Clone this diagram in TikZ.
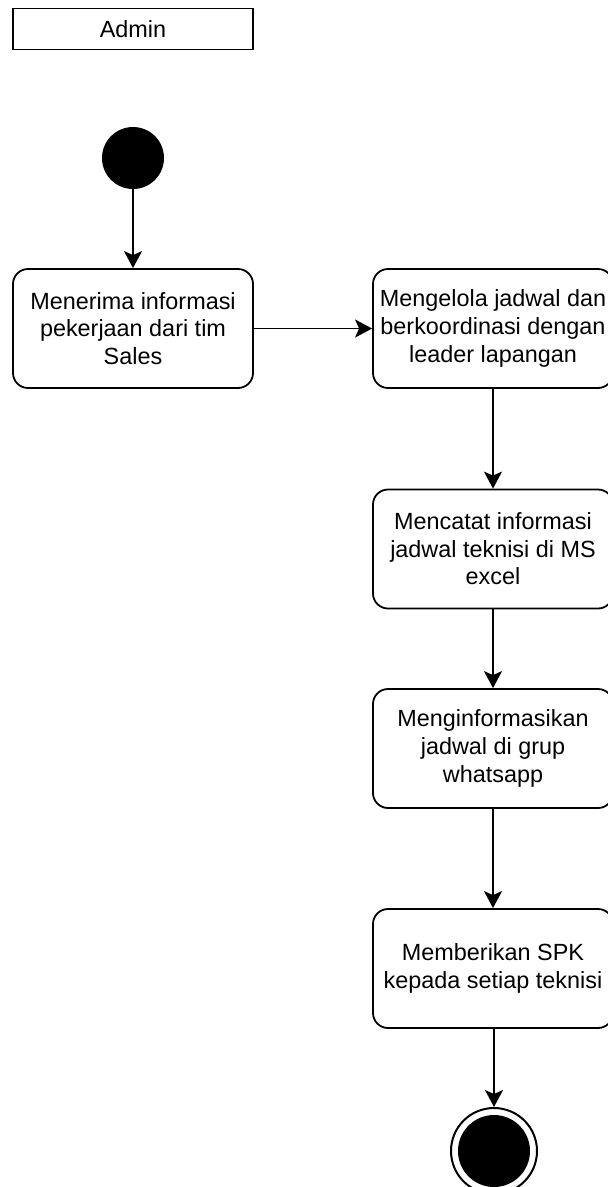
\documentclass[tikz,border=0pt]{standalone}
\usepackage{fontspec}
\setmainfont{Liberation Sans}
\newfontfamily\labelfont{Liberation Sans}
\usetikzlibrary{arrows.meta}

\tikzset{
  actbox/.style={draw=black, line width=1.8pt, rounded corners=15pt,
    minimum width=240pt, minimum height=119pt, inner sep=0pt,
    align=center, font=\labelfont\fontsize{23.4}{27.6}\selectfont},
  lanebox/.style={draw=black, line width=1.8pt, minimum width=240pt,
    minimum height=41pt, inner sep=0pt, font=\labelfont\fontsize{23.4}{27.6}\selectfont},
  flow/.style={draw=black, line width=1.9pt,
    -{Stealth[length=17pt, width=18pt, inset=4pt]}},
  initial/.style={circle, fill=black, minimum size=62pt, inner sep=0pt},
  final/.style={circle, draw=black, line width=2pt, minimum size=86pt,
    inner sep=0pt, path picture={\fill[black] (path picture bounding box.center) circle (36pt);}}
}

\begin{document}
\begin{tikzpicture}[x=1pt, y=-1pt]
  \useasboundingbox (0,0) rectangle (608,1187);
  \clip (0,0) rectangle (608,1187);

  % swimlane header
  \node[lanebox] (lane) at (133,29) {Admin};

  % states
  \node[initial] (start) at (133,158) {};
  \node[actbox] (terima) at (133,328.5) {Menerima informasi\\pekerjaan dari tim\\Sales};
  \node[actbox] (kelola) at (493,328.5) {Mengelola jadwal dan\\berkoordinasi dengan\\leader lapangan};
  \node[actbox] (catat) at (493,549) {Mencatat informasi\\jadwal teknisi di MS\\excel};
  \node[actbox] (info) at (493,748.5) {Menginformasikan\\jadwal di grup\\whatsapp};
  \node[actbox] (spk) at (493,968.5) {Memberikan SPK\\kepada setiap teknisi};
  \node[final] (end) at (494,1151) {};

  % transitions
  \draw[flow] (start) -- (terima);
  \draw[flow] (terima) -- (kelola);
  \draw[flow] (kelola) -- (catat);
  \draw[flow] (catat) -- (info);
  \draw[flow] (info) -- (spk);
  \draw[flow] (spk.south -| end) -- (end);
\end{tikzpicture}
\end{document}
